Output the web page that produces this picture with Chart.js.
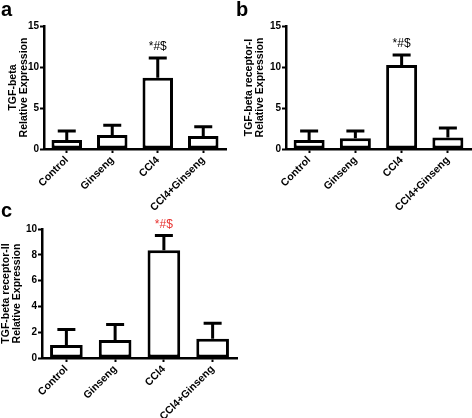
<!DOCTYPE html>
<html>
<head>
<meta charset="utf-8">
<script src="https://cdn.jsdelivr.net/npm/chart.js@4"></script>
<style>
  body { margin: 0; background: #fff; }
  #wrap { position: relative; width: 472px; height: 418px; overflow: hidden; }
  canvas { position: absolute; }
  .tag { position: absolute; font: bold 20px Arial, "Liberation Sans", sans-serif; line-height: 1; }
</style>
</head>
<body>
<div id="wrap">
  <canvas id="chartA" width="236" height="215" style="left:0px;top:0px"></canvas>
  <canvas id="chartB" width="236" height="215" style="left:236px;top:0px"></canvas>
  <canvas id="chartC" width="250" height="218" style="left:0px;top:200px"></canvas>
  <div class="tag" style="left:1px;top:-1px">a</div>
  <div class="tag" style="left:236px;top:-1px">b</div>
  <div class="tag" style="left:1px;top:200px">c</div>
</div>
<script>
//Data
const groups = ["Control", "Ginseng", "CCl4", "CCl4+Ginseng"]; //x categories
const sigMarks = ["", "", "*#$", ""]; //significance marks above bars

const tgfMean = [1.1, 1.7, 8.7, 1.6]; //panel a means
const tgfErr = [1.1, 1.2, 2.4, 1.1]; //panel a upper error
const r1Mean = [1.1, 1.3, 10.25, 1.4]; //panel b means
const r1Err = [1.1, 0.9, 1.2, 1.15]; //panel b upper error
const r2Mean = [1.0, 1.4, 8.35, 1.5]; //panel c means
const r2Err = [1.2, 1.2, 1.15, 1.2]; //panel c upper error

const fontFam = "Arial, 'Liberation Sans', sans-serif";

//draws one-sided error bars and the significance text using the chart scales
const errorBarPlugin = {
    id: "errorBars",
    afterDatasetsDraw(chart, args, opts) {
        const ctx = chart.ctx;
        const yScale = chart.scales.y;
        const meta = chart.getDatasetMeta(0);
        ctx.save();
        ctx.strokeStyle = "#000";
        ctx.lineWidth = 3;
        meta.data.forEach((bar, i) => {
            const topY = yScale.getPixelForValue(opts.means[i] + opts.errs[i]);
            ctx.beginPath();
            ctx.moveTo(bar.x, bar.y);
            ctx.lineTo(bar.x, topY);
            ctx.moveTo(bar.x - 9, topY);
            ctx.lineTo(bar.x + 9, topY);
            ctx.stroke();
            if (opts.marks[i]) { //significance text
                ctx.fillStyle = opts.markColor;
                ctx.font = "12px " + fontFam;
                ctx.textAlign = "center";
                ctx.textBaseline = "bottom";
                ctx.fillText(opts.marks[i], bar.x, topY - 5);
            }
        });
        ctx.restore();
    }
};

function makeChart(id, means, errs, title, yMax, yStep, yWidth, xHeight, pad, markColor) { //build one panel
    const ctx = document.getElementById(id).getContext("2d");
    return new Chart(ctx, {
        type: "bar",
        data: {
            labels: groups,
            datasets: [{
                data: means,
                backgroundColor: "#fff",
                borderColor: "#000",
                borderWidth: 3,
                borderSkipped: false,
                categoryPercentage: 1,
                barPercentage: 0.67
            }]
        },
        plugins: [errorBarPlugin],
        options: {
            responsive: false,
            animation: false,
            layout: { padding: pad },
            plugins: {
                legend: { display: false },
                tooltip: { enabled: false },
                errorBars: { means: means, errs: errs, marks: sigMarks, markColor: markColor }
            },
            scales: {
                x: {
                    afterFit: s => { s.height = xHeight; },
                    grid: { drawOnChartArea: false, offset: false, tickLength: 4, tickWidth: 2, color: "#000" },
                    border: { display: true, color: "#000", width: 2.5 },
                    ticks: {
                        color: "#000",
                        font: { family: fontFam, size: 10.5, weight: "bold" },
                        minRotation: 45,
                        maxRotation: 45,
                        padding: 1,
                        autoSkip: false
                    }
                },
                y: {
                    min: 0,
                    max: yMax,
                    afterFit: s => { s.width = yWidth; },
                    grid: { drawOnChartArea: false, tickLength: 4, tickWidth: 2, color: "#000" },
                    border: { display: true, color: "#000", width: 2.5 },
                    ticks: {
                        stepSize: yStep,
                        color: "#000",
                        font: { family: fontFam, size: 10, weight: "bold" },
                        padding: 1
                    },
                    title: {
                        display: true,
                        text: title,
                        color: "#000",
                        font: { family: fontFam, size: 10.5, weight: "bold", lineHeight: 1.0 },
                        padding: { top: 0, bottom: 0 }
                    }
                }
            }
        }
    });
}

window.addEventListener("DOMContentLoaded", () => { //on page load
    makeChart("chartA", tgfMean, tgfErr, ["TGF-beta", "Relative Expression"], 15, 5, 36, 66,
        { top: 26, right: 10, left: 8, bottom: 0 }, "#000");
    makeChart("chartB", r1Mean, r1Err, ["TGF-beta receptor-I", "Relative Expression"], 15, 5, 42, 66,
        { top: 26, right: 1, left: 8, bottom: 0 }, "#000");
    makeChart("chartC", r2Mean, r2Err, ["TGF-beta receptor-II", "Relative Expression"], 10, 2, 41, 60,
        { top: 29, right: 13, left: 1, bottom: 0 }, "#e8312f");
});
</script>
</body>
</html>
